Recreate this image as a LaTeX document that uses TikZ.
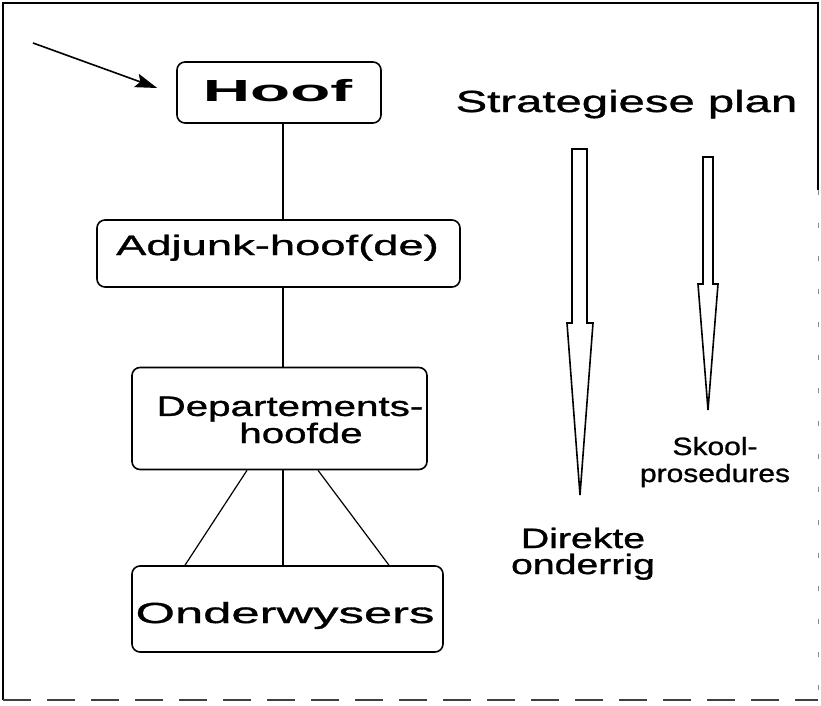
\documentclass[tikz,border=0pt]{standalone}
\usepackage{fontspec}
\setmainfont{Liberation Sans}
\newfontfamily\fhoof{Liberation Sans}[FakeStretch=2.15]
\newfontfamily\fstrat{Liberation Sans}[FakeStretch=1.55,FakeBold=1.2]
\newfontfamily\fadj{Liberation Sans}[FakeStretch=1.62,FakeBold=1.2]
\newfontfamily\fdep{Liberation Sans}[FakeStretch=1.44,FakeBold=1.2]
\newfontfamily\fond{Liberation Sans}[FakeStretch=1.75,FakeBold=1.2]
\newfontfamily\fdir{Liberation Sans}[FakeStretch=1.4,FakeBold=1.2]
\newfontfamily\fskool{Liberation Sans}[FakeStretch=1.2,FakeBold=1]
\usetikzlibrary{arrows.meta}
\begin{document}
\begin{tikzpicture}[x=1pt,y=-1pt,
  box/.style={draw, line width=1.6pt, rounded corners=8pt, inner sep=0pt},
  conn/.style={line width=1.2pt},
  lbl/.style={inner sep=0pt, anchor=base},
  hollow/.style={draw, line width=1.6pt, fill=white, line join=miter}]
\useasboundingbox (0,0) rectangle (821,706);
% frame
\draw[line width=1.4pt] (818,190) -- (818,3) -- (3,3) -- (3,700);
\draw[line width=1.2pt, black!75, dash pattern=on 28pt off 16pt] (3,700) -- (818,700);
\draw[line width=1pt, black!45, dash pattern=on 5pt off 28pt] (818,190) -- (818,700);
% boxes
\node[box, minimum width=204pt, minimum height=61pt] (hoof) at (279,92.5) {};
\node[box, minimum width=363pt, minimum height=67pt] (adj) at (278.5,253.5) {};
\node[box, minimum width=295pt, minimum height=102pt] (dep) at (279.5,418.5) {};
\node[box, minimum width=311pt, minimum height=86pt] (ond) at (287.5,609) {};
% texts (multi-line nodes: base = baseline of last line)
\node[lbl, font=\fhoof\bfseries\fontsize{30.5}{30}\selectfont] (thoof) at (277.5,102) {Hoof};
\node[lbl, font=\fadj\fontsize{28}{24}\selectfont] (tadj) at (277.5,255) {Adjunk-hoof(de)};
\node[lbl, align=center, font=\fdep\fontsize{28}{25}\selectfont] (tdep) at (290,443) {Departements-\\\hspace*{22pt}hoofde};
\node[lbl, font=\fond\fontsize{29}{24}\selectfont] (tond) at (285,623) {Onderwysers};
\node[lbl, font=\fstrat\fontsize{30.5}{30}\selectfont] (tstrat) at (626.5,112) {Strategiese plan};
\node[lbl, align=center, font=\fdir\fontsize{28}{26}\selectfont] (tdir) at (583,574) {Direkte\\onderrig};
\node[lbl, align=center, font=\fskool\fontsize{25}{27}\selectfont] (tskool) at (715,482) {Skool-\\prosedures};
% connectors
\draw[conn] ([xshift=4pt]hoof.south) -- ([xshift=4pt]hoof.south |- adj.north);
\draw[conn] ([xshift=4.5pt]adj.south) -- ([xshift=4.5pt]adj.south |- dep.north);
\draw[conn] ([xshift=-32.5pt]dep.south) -- ([xshift=-102.5pt]ond.north);
\draw[conn] ([xshift=3.5pt]dep.south) -- ([xshift=3.5pt]dep.south |- ond.north);
\draw[conn] ([xshift=38.5pt]dep.south) -- ([xshift=101.5pt]ond.north);
% incoming arrow
\coordinate (src) at (33,43);
\draw[line width=1.6pt, -{Stealth[length=22pt,width=14pt,inset=4pt]}] (src) -- ([xshift=-19pt,yshift=4.5pt]hoof.west);
% hollow arrows
\draw[hollow] (572,149) -- (587,149) -- (587,323) -- (593,323) -- (580,495) -- (567,323) -- (572,323) -- cycle;
\draw[hollow] (703,157) -- (713,157) -- (713,284) -- (718,284) -- (708,410) -- (698,284) -- (703,284) -- cycle;
\end{tikzpicture}
\end{document}
